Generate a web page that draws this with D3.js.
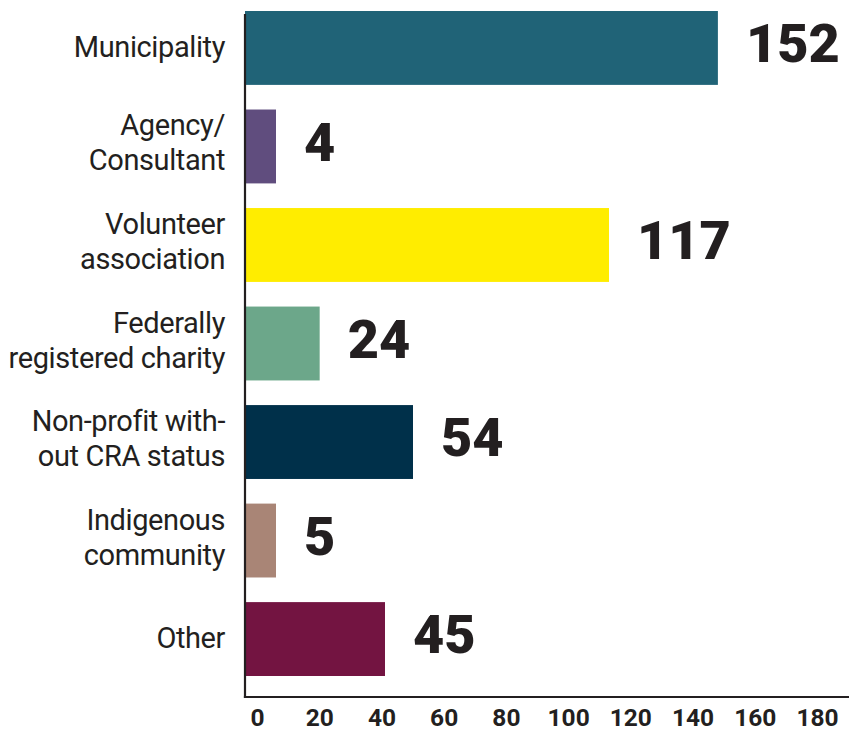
<!DOCTYPE html>
<html>
<head>
<meta charset="utf-8">
<script src="https://cdn.jsdelivr.net/npm/d3@7"></script>
<style>
  html, body { margin: 0; padding: 0; background: #fff; }
  svg { display: block; font-family: Roboto, "Noto Sans", sans-serif; }
</style>
</head>
<body>
<svg id="chart" width="849" height="734"></svg>
<script>
const categories = [
  "Municipality",
  "Agency/\nConsultant",
  "Volunteer\nassociation",
  "Federally\nregistered charity",
  "Non-profit with-\nout CRA status",
  "Indigenous\ncommunity",
  "Other"
];
const values = [152, 4, 117, 24, 54, 5, 45];
const colors = ["#206377", "#604d7e", "#ffed00", "#6ca78a", "#00304a", "#a98576", "#731441"];
const tickValues = [0, 20, 40, 60, 80, 100, 120, 140, 160, 180];

const data = categories.map((c, i) => ({ cat: c, value: values[i], color: colors[i] }));

const svg = d3.select("#chart");
const ink = "#231f20";
const minBarWidth = 31;

const x = d3.scaleLinear().domain([0, 180]).range([245, 805]);
const y = d3.scaleBand().domain(categories).range([11, 676]).paddingInner(0.25).paddingOuter(0);

// bars
svg.append("g").selectAll("rect").data(data).join("rect")
  .attr("x", x(0))
  .attr("y", d => y(d.cat))
  .attr("width", d => Math.max(x(d.value) - x(0), minBarWidth))
  .attr("height", y.bandwidth())
  .attr("fill", d => d.color);

// value labels
svg.append("g").selectAll("text").data(data).join("text")
  .attr("x", d => x(0) + Math.max(x(d.value) - x(0), minBarWidth) + 28)
  .attr("y", d => y(d.cat) + y.bandwidth() * 0.695)
  .attr("fill", ink)
  .attr("font-size", 54)
  .attr("font-weight", 900)
  .text(d => d.value);

// category labels
const catG = svg.append("g");
data.forEach(d => {
  const lines = d.cat.split("\n");
  const cy = y(d.cat) + y.bandwidth() / 2;
  const t = catG.append("text")
    .attr("x", 225)
    .attr("text-anchor", "end")
    .attr("fill", ink)
    .attr("font-size", 29)
    .attr("letter-spacing", -0.4)
    .attr("font-weight", 400);
  if (lines.length === 1) {
    t.append("tspan").attr("x", 225).attr("y", cy + 9).text(lines[0]);
  } else {
    lines.forEach((l, i) => {
      t.append("tspan").attr("x", 225).attr("y", cy - 11 + i * 35).text(l);
    });
  }
});

// axis lines
svg.append("line")
  .attr("x1", x(0)).attr("x2", x(0))
  .attr("y1", 14).attr("y2", 698)
  .attr("stroke", ink).attr("stroke-width", 2.2);
svg.append("line")
  .attr("x1", x(0) - 1.1).attr("x2", 849)
  .attr("y1", 697).attr("y2", 697)
  .attr("stroke", ink).attr("stroke-width", 2.2);

// tick labels
const axis = d3.axisBottom(x).tickValues(tickValues).tickSize(0).tickPadding(0);
const ax = svg.append("g")
  .attr("transform", "translate(12, 709)")
  .call(axis);
ax.select(".domain").remove();
ax.selectAll("text")
  .attr("font-family", "Roboto, sans-serif")
  .attr("font-size", 24.5)
  .attr("font-weight", 700)
  .attr("fill", ink);
</script>
</body>
</html>
